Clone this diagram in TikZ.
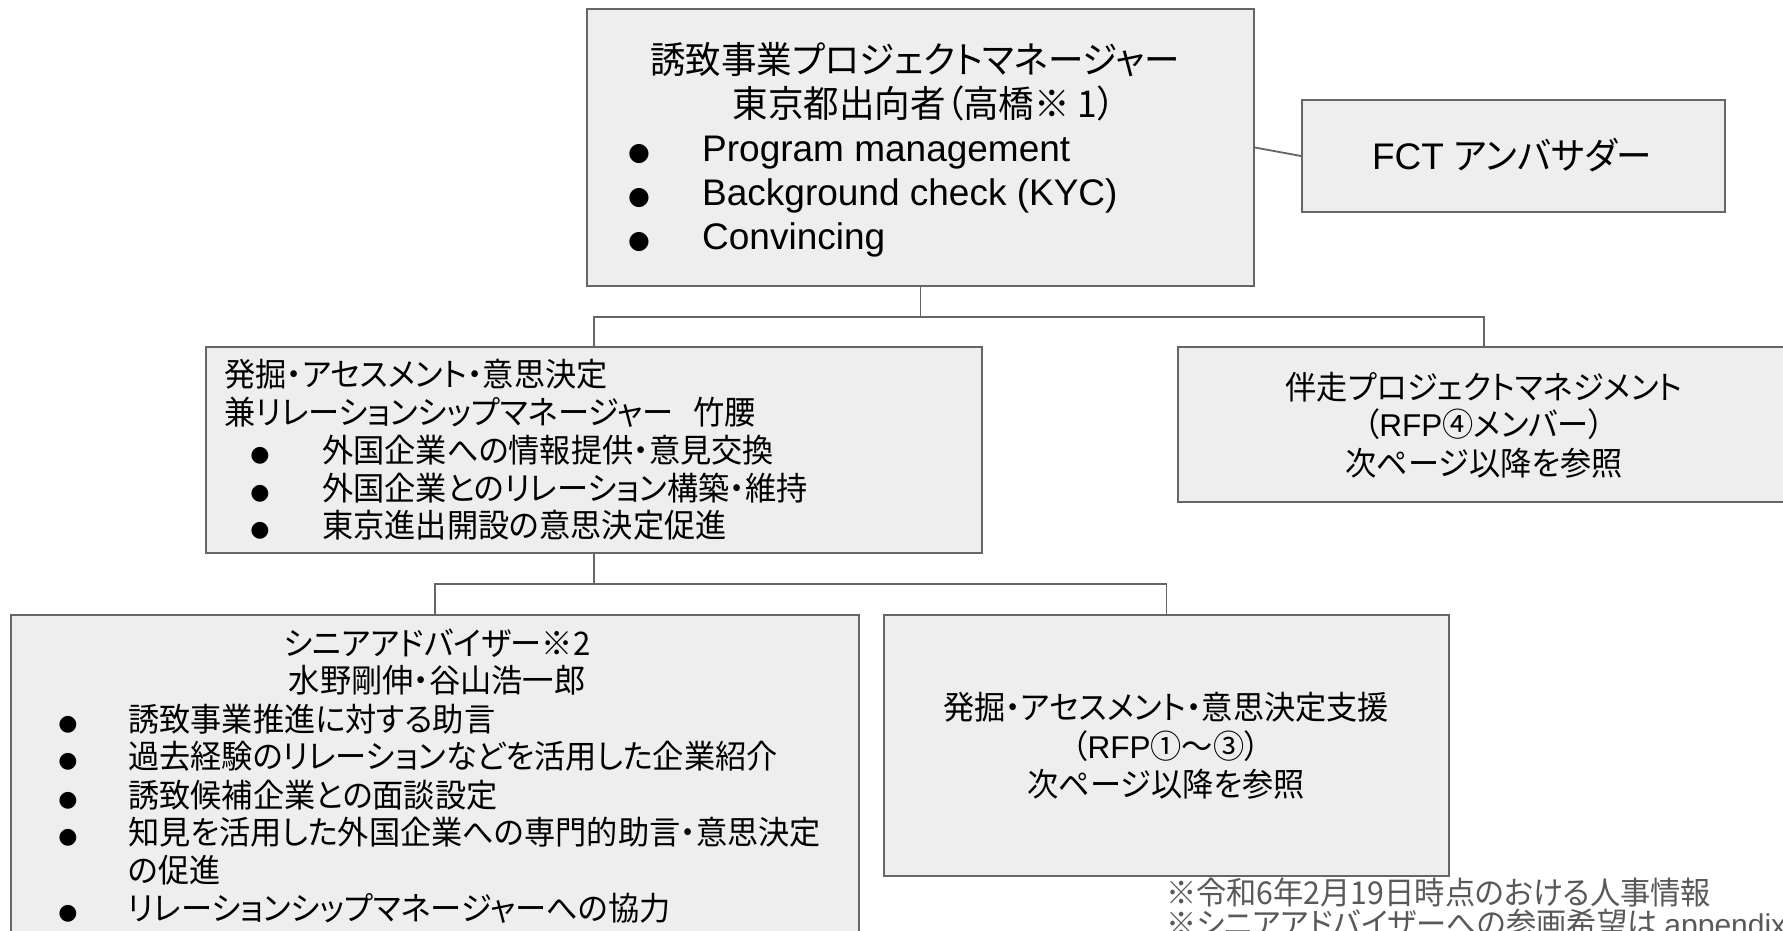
\documentclass[tikz,border=0pt]{standalone}
\usepackage{fontspec}
\setmainfont{Liberation Sans}
\newfontfamily\jp[RawFeature=+palt,FakeStretch=0.96]{Noto Sans CJK JP}
\newfontfamily\bulfont{DejaVu Sans}
\definecolor{boxfill}{HTML}{EEEEEE}
\definecolor{edgec}{HTML}{666666}
\definecolor{notec}{HTML}{595959}
\newcommand{\fJL}{\jp\fontsize{37}{44}\selectfont}
\newcommand{\fLL}{\fontsize{37}{44}\selectfont}
\newcommand{\fJS}{\jp\fontsize{32.5}{38}\selectfont}
\newcommand{\fLS}{\fontsize{31.5}{38}\selectfont}
\newcommand{\fBL}{\bulfont\fontsize{25}{44}\selectfont}
\newcommand{\fBS}{\bulfont\fontsize{22}{38}\selectfont}
\newcommand{\fNote}{\jp\fontsize{31.5}{31}\selectfont}
\tikzset{
  box/.style={draw=edgec, fill=boxfill, line width=1.8pt, rectangle, inner sep=0pt},
  conn/.style={draw=edgec, line width=1.8pt},
  tc/.style={inner sep=0pt, anchor=base},
  tw/.style={inner sep=0pt, anchor=base west},
}
\begin{document}
\begin{tikzpicture}[x=1pt,y=-1pt]
\clip (0,0) rectangle (1783,930);
\fill[white] (0,0) rectangle (1783,930);

% boxes
\node[box, minimum width=667pt, minimum height=277pt] (top) at (920.5,147.5) {};
\node[box, minimum width=423pt, minimum height=112pt] (fct) at (1513.5,156) {};
\node[box, minimum width=776pt, minimum height=206pt] (b2) at (594,450) {};
\node[box, minimum width=612pt, minimum height=155pt] (b3) at (1484,424.5) {};
\node[box, minimum width=848pt, minimum height=345pt] (b4) at (435,787.5) {};
\node[box, minimum width=565pt, minimum height=261pt] (b5) at (1166.5,745.5) {};

% connectors
\coordinate (j1) at (920.5,317);
\coordinate (j2) at (594,584);
\draw[conn] (top.south) -- (j1);
\draw[conn] (b2.north) |- (j1) -| (b3.north);
\draw[conn] (b2.south) -- (j2);
\draw[conn] (b4.north) |- (j2) -| (b5.north);
\draw[conn] (top.east) -- (fct.west);

% top box text
\node[tc, font=\fJL] (t1) at (915,73) {誘致事業プロジェクトマネージャー};
\node[tc, font=\fJL] (t2) at (924,117) {東京都出向者（高橋※ 1）};
\node[tc, font=\fBL] (tb1) at (639,160) {●};
\node[tw, font=\fLL] (t3) at (702,161) {Program management};
\node[tc, font=\fBL] (tb2) at (639,204) {●};
\node[tw, font=\fLL] (t4) at (702,205) {Background check (KYC)};
\node[tc, font=\fBL] (tb3) at (639,248) {●};
\node[tw, font=\fLL] (t5) at (702,249) {Convincing};

% FCT
\node[tc] (f1) at (1512,169) {{\fLL FCT }{\fJL アンバサダー}};

% box 2
\node[tw, font=\fJS] (s1) at (224,386) {発掘・アセスメント・意思決定};
\node[tw, font=\fJS] (s2) at (224,424) {兼リレーションシップマネージャー\hspace{20pt}竹腰};
\node[tc, font=\fBS] (sb1) at (260,461) {●};
\node[tw, font=\fJS] (s3) at (322,462) {外国企業への情報提供・意見交換};
\node[tc, font=\fBS] (sb2) at (260,499) {●};
\node[tw, font=\fJS] (s4) at (322,500) {外国企業とのリレーション構築・維持};
\node[tc, font=\fBS] (sb3) at (260,536) {●};
\node[tw, font=\fJS] (s5) at (322,537) {東京進出開設の意思決定促進};

% box 3
\node[tc, font=\fJS] (r1) at (1484,399) {伴走プロジェクトマネジメント};
\node[tc] (r2) at (1484,436) {{\fJS （}{\fLS RFP}{\fJS ④メンバー）}};
\node[tc, font=\fJS] (r3) at (1484,475) {次ページ以降を参照};

% box 4
\node[tc, font=\fJS] (a1) at (437,655) {シニアアドバイザー※2};
\node[tc, font=\fJS] (a2) at (437,692) {水野剛伸・谷山浩一郎};
\node[tc, font=\fBS] (ab1) at (68,730) {●};
\node[tw, font=\fJS] (a3) at (128,731) {誘致事業推進に対する助言};
\node[tc, font=\fBS] (ab2) at (68,767) {●};
\node[tw, font=\fJS] (a4) at (128,768) {過去経験のリレーションなどを活用した企業紹介};
\node[tc, font=\fBS] (ab3) at (68,806) {●};
\node[tw, font=\fJS] (a5) at (128,807) {誘致候補企業との面談設定};
\node[tc, font=\fBS] (ab4) at (68,843) {●};
\node[tw, font=\fJS] (a6) at (128,844) {知見を活用した外国企業への専門的助言・意思決定};
\node[tw, font=\fJS] (a7) at (128,882) {の促進};
\node[tc, font=\fBS] (ab5) at (68,919) {●};
\node[tw, font=\fJS] (a8) at (128,920) {リレーションシップマネージャーへの協力};

% box 5
\node[tc, font=\fJS] (p1) at (1166,719) {発掘・アセスメント・意思決定支援};
\node[tc] (p2) at (1166,758) {{\fJS （}{\fLS RFP}{\fJS ①〜③）}};
\node[tc, font=\fJS] (p3) at (1166,796) {次ページ以降を参照};

% footnotes
\node[tw, font=\fNote, text=notec] (n1) at (1166,904) {※令和6年2月19日時点のおける人事情報};
\node[tw, text=notec] (n2) at (1166,935) {{\fNote ※シニアアドバイザーへの参画希望は }{\fontsize{30}{31}\selectfont appendix}{\fNote 参照}};
\end{tikzpicture}
\end{document}
